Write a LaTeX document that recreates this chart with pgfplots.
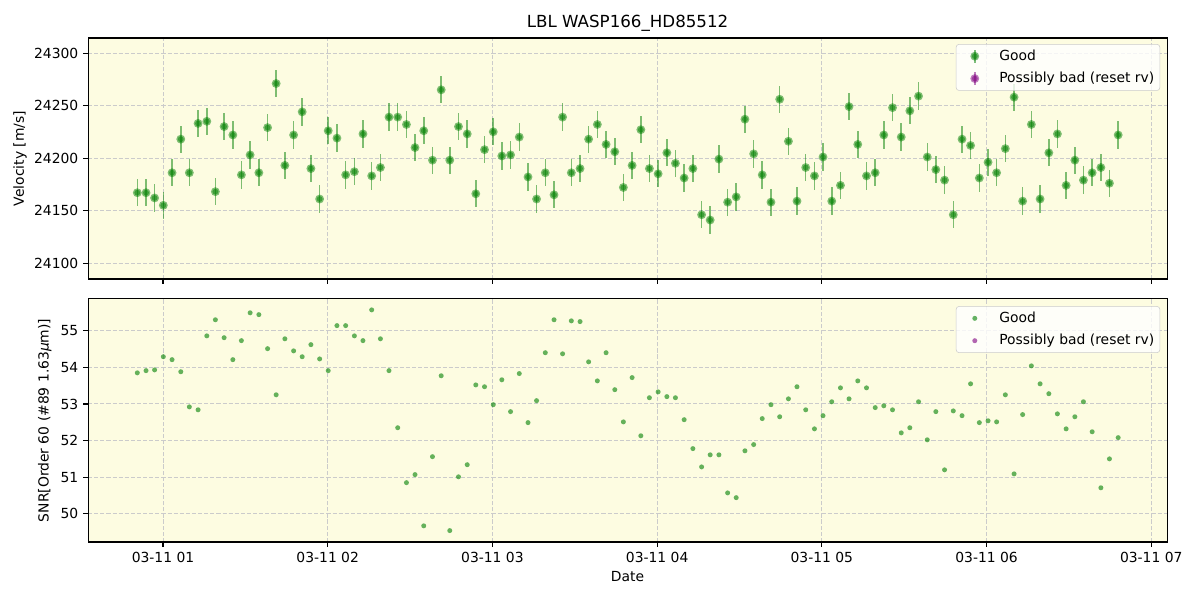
\documentclass[border=0pt]{standalone}
\usepackage{fontspec}
\setmainfont{DejaVu Sans}
\usepackage{pgfplots}
\usepackage{pgfplotstable}
\pgfplotsset{compat=1.18}

\definecolor{mplgreen}{HTML}{008000}
\definecolor{mplpurple}{HTML}{800080}
\definecolor{bgyellow}{HTML}{FDFCE1}
\definecolor{gridgray}{HTML}{CBCBCB}

% time [h after 03-11 00:00], velocity [m/s], error [m/s], SNR
\pgfplotstableread{
t v e s
0.844 24167 13 53.85
0.897 24167 13 53.91
0.949 24162 13 53.93
1.002 24155 13 54.29
1.055 24186 13 54.21
1.108 24218 13 53.88
1.160 24186 13 52.92
1.213 24233 13 52.84
1.266 24235 13 54.86
1.318 24168 13 55.30
1.371 24230 13 54.81
1.424 24222 13 54.21
1.476 24184 13 54.73
1.529 24203 13 55.49
1.582 24186 13 55.44
1.635 24229 13 54.51
1.687 24271 13 53.25
1.740 24193 13 54.78
1.793 24222 13 54.45
1.845 24244 13 54.29
1.898 24190 13 54.62
1.951 24161 13 54.23
2.003 24226 13 53.91
2.056 24219 13 55.14
2.109 24184 13 55.14
2.162 24187 13 54.86
2.214 24223 13 54.73
2.267 24183 13 55.57
2.320 24191 13 54.78
2.372 24239 13 53.91
2.425 24239 13 52.35
2.478 24232 13 50.85
2.530 24210 13 51.07
2.583 24226 13 49.67
2.636 24198 13 51.56
2.689 24265 13 53.77
2.741 24198 13 49.54
2.794 24230 13 51.01
2.847 24223 13 51.34
2.899 24166 13 53.52
2.952 24208 13 53.47
3.005 24225 13 52.98
3.057 24202 13 53.66
3.110 24203 13 52.79
3.163 24220 13 53.83
3.216 24182 13 52.49
3.268 24161 13 53.09
3.321 24186 13 54.40
3.374 24165 13 55.30
3.426 24239 13 54.37
3.479 24186 13 55.27
3.532 24190 13 55.25
3.584 24218 13 54.15
3.637 24232 13 53.63
3.690 24213 13 54.40
3.743 24206 13 53.39
3.795 24172 13 52.51
3.848 24193 13 53.72
3.901 24227 13 52.13
3.953 24190 13 53.17
4.006 24185 13 53.33
4.059 24205 13 53.20
4.111 24195 13 53.17
4.164 24181 13 52.57
4.217 24190 13 51.78
4.270 24146 13 51.28
4.322 24141 13 51.61
4.375 24199 13 51.61
4.428 24158 13 50.57
4.480 24163 13 50.44
4.533 24237 13 51.72
4.586 24204 13 51.89
4.638 24184 13 52.60
4.691 24158 13 52.98
4.744 24256 13 52.65
4.797 24216 13 53.14
4.849 24159 13 53.47
4.902 24191 13 52.84
4.955 24183 13 52.32
5.007 24201 13 52.68
5.060 24159 13 53.06
5.113 24174 13 53.44
5.165 24249 13 53.14
5.218 24213 13 53.63
5.271 24183 13 53.44
5.324 24186 13 52.90
5.376 24222 13 52.95
5.429 24248 13 52.84
5.482 24220 13 52.21
5.534 24245 13 52.35
5.587 24259 13 53.06
5.640 24201 13 52.02
5.692 24189 13 52.79
5.745 24179 13 51.20
5.798 24146 13 52.81
5.851 24218 13 52.68
5.903 24212 13 53.55
5.956 24181 13 52.49
6.009 24196 13 52.54
6.061 24186 13 52.51
6.114 24209 13 53.25
6.167 24258 13 51.09
6.219 24159 13 52.71
6.272 24232 13 54.04
6.325 24161 13 53.55
6.378 24205 13 53.28
6.430 24223 13 52.73
6.483 24174 13 52.32
6.536 24198 13 52.65
6.588 24179 13 53.06
6.641 24186 13 52.24
6.694 24191 13 50.71
6.746 24176 13 51.50
6.799 24222 13 52.08
}\rvdata

\pgfplotsset{
  panel/.style={
    scale only axis, width=776.9pt,
    xmin=0.545, xmax=7.096,
    axis background/.style={fill=bgyellow},
    axis line style={line width=0.8pt},
    every tick/.style={black, line width=0.8pt},
    tick align=outside, major tick length=3.5pt,
    xtick pos=bottom, ytick pos=left,
    xtick={1,2,3,4,5,6,7},
    scaled y ticks=false,
    grid=major,
    major grid style={gridgray, line width=0.7pt, dash pattern=on 3pt off 1.4pt},
    tick label style={font=\fontsize{10}{12}\selectfont},
    label style={font=\fontsize{10}{12}\selectfont},
    /pgf/number format/assume math mode=true,
    /pgf/number format/1000 sep={},
    legend style={font=\fontsize{10}{12}\selectfont, draw=gridgray, fill=white,
      fill opacity=0.8, text opacity=1, rounded corners=2pt,
      at={(0.9935,0.975)}, anchor=north east, inner xsep=2pt, inner ysep=2pt,
      row sep=3pt},
    legend cell align=left,
  },
  errleg/.style={legend image code/.code={
    \path[draw=none, fill=none] (0cm,0cm) -- (0.95cm,0cm);
    \draw[#1, opacity=0.5, line width=1.1pt] (0.4cm,-0.16cm) -- (0.4cm,0.16cm);
    \fill[#1, draw=none, opacity=0.5] (0.4cm,0cm) circle (3.2pt);
    \fill[#1, draw=none, opacity=0.5] (0.4cm,0cm) circle (2.1pt);}},
  dotleg/.style={legend image code/.code={
    \path[draw=none, fill=none] (0cm,0cm) -- (0.95cm,0cm);
    \fill[#1, draw=none, opacity=0.6] (0.4cm,0cm) circle (1.8pt);}},
}

\begin{document}
\begin{tikzpicture}
\useasboundingbox (0,0) rectangle (864pt,432pt);

\begin{axis}[panel,
  at={(63.4pt,231.1pt)}, anchor=south west, height=173.5pt,
  ymin=24084.8, ymax=24314.3,
  ytick={24100,24150,24200,24250,24300},
  yticklabel={\pgfmathprintnumber[fixed,precision=0]{\tick}},
  xticklabels={},
  ylabel={Velocity [m/s]},
  ylabel style={at={(axis description cs:-0.063,0.5)}, anchor=center},
  title={LBL WASP166\_HD85512},
  title style={font=\fontsize{12}{14}\selectfont, at={(0.5,1)}, anchor=base, yshift=1.7pt},
]
\addplot[only marks, mark=*, mark size=3.2pt,
  mark options={fill=mplgreen, draw opacity=0, fill opacity=0.5},
  errleg=mplgreen,
  error bars/.cd, y dir=both, y explicit, error mark=none,
  error bar style={mplgreen, opacity=0.5, line width=1.1pt}]
  table[x=t, y=v, y error=e]{\rvdata};
\addplot[only marks, mark=*, mark size=2.1pt,
  mark options={fill=mplgreen, draw opacity=0, fill opacity=0.5}, forget plot]
  table[x=t, y=v]{\rvdata};
\addlegendimage{errleg=mplpurple}
\legend{Good, Possibly bad (reset rv)}
\end{axis}

\begin{axis}[panel,
  at={(63.4pt,41.8pt)}, anchor=south west, height=175pt,
  ymin=49.23, ymax=55.87,
  ytick={50,51,52,53,54,55},
  xticklabels={03-11 01,03-11 02,03-11 03,03-11 04,03-11 05,03-11 06,03-11 07},
  xlabel={Date},
  ylabel={SNR[Order 60 (\#89 1.63{\itshape μ}m)]},
  ylabel style={at={(axis description cs:-0.040,0.5)}, anchor=center},
  legend style={at={(0.9935,0.97)}},
]
\addplot[only marks, mark=*, mark size=1.8pt,
  mark options={fill=mplgreen, draw opacity=0, fill opacity=0.6}, dotleg=mplgreen]
  table[x=t, y=s]{\rvdata};
\addlegendimage{dotleg=mplpurple}
\legend{Good, Possibly bad (reset rv)}
\end{axis}
\end{tikzpicture}
\end{document}
